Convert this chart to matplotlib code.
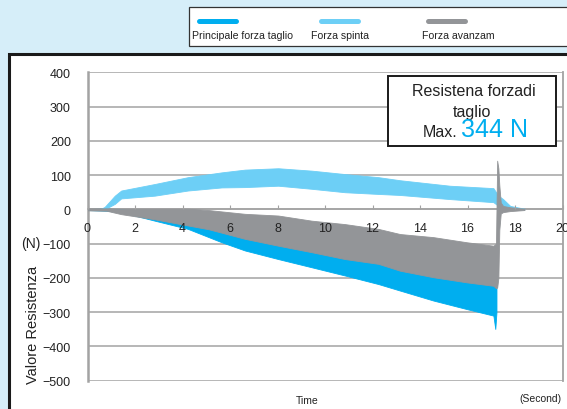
import matplotlib.pyplot as plt
import matplotlib.patches as mpatches
from matplotlib.lines import Line2D

plt.rcParams['font.family'] = ['Liberation Sans', 'DejaVu Sans']

# Forza spinta (light blue band)
t_spinta = [0.5, 0.72, 1.15, 1.42, 2.83, 4.23, 5.65, 6.63, 8.03, 9.44, 10.84, 12.25, 13.16, 15.26, 17.09, 17.3, 17.5, 17.8, 18.4]
spinta_hi = [0, 7, 40, 55, 74, 94, 108, 116, 120, 113, 103, 94, 85, 69, 62, 40, 30, 10, 2]
spinta_lo = [0, 0, 16, 32, 40, 55, 64, 65, 69, 60, 50, 45, 42, 30, 21, 10, 5, 0, 0]

# Principale forza taglio (blue band, under the grey one)
t_princ = [0.0, 0.8, 1.42, 2.83, 4.23, 5.65, 6.63, 8.03, 9.44, 10.84, 12.25, 13.16, 14.56, 15.97, 17.09, 17.17, 17.22]
princ_hi = [1, 2, 0, -10, -25, -40, -55, -70, -85, -100, -115, -125, -140, -150, -160, -160, -160]
princ_lo = [-2, -4, -8, -33, -57, -96, -120, -145, -169, -193, -218, -237, -266, -291, -310, -349, -300]

# Forza avanzam (grey band)
t_avanz = [0.0, 0.8, 1.42, 2.83, 4.23, 5.1, 5.65, 6.63, 8.03, 9.44, 10.84, 12.25, 13.16, 14.56, 15.97, 17.09,
           17.2, 17.25, 17.3, 17.34, 17.4, 17.5, 17.8, 18.4]
avanz_hi = [3, 3, 2, 2, 2, -2, -6, -13, -18, -33, -43, -57, -72, -81, -96, -106,
            -100, 142, 120, 70, 20, 10, 6, 2]
avanz_lo = [-3, -4, -14, -29, -47, -58, -68, -86, -106, -125, -145, -159, -179, -198, -213, -223,
            -230, -228, -200, -60, -12, -8, -5, -2]

x_ticks = [0, 2, 4, 6, 8, 10, 12, 14, 16, 18, 20]
y_ticks = [400, 300, 200, 100, 0, -100, -200, -300, -400, -500]

c_princ = '#00aeef'
c_spinta = '#6dcff6'
c_avanz = '#939598'
c_axis = '#a3a3a3'

W, H = 567, 410
fig = plt.figure(figsize=(W / 100, H / 100), dpi=100)
fig.patch.set_facecolor('#d6eef9')

def fx(px):
    return px / W

def fy(py):
    return 1 - py / H

# white panel with black border
fig.patches.append(mpatches.Rectangle((fx(9), -0.05), 1.1, fy(55) + 0.05, transform=fig.transFigure,
                                      facecolor='white', edgecolor='#1a1a1a', lw=2.2, zorder=-2))
# legend box
fig.patches.append(mpatches.Rectangle((fx(189), fy(47)), 1.0, (47 - 8) / H, transform=fig.transFigure,
                                      facecolor='white', edgecolor='#333333', lw=0.9, zorder=-2))
leg = [('Principale forza taglio', c_princ, 192, 199), ('Forza spinta', c_spinta, 311, 321),
       ('Forza avanzam', c_avanz, 422, 428)]
for name, col, tx, lx in leg:
    fig.lines.append(Line2D([fx(lx), fx(lx + 37)], [fy(22), fy(22)], transform=fig.transFigure,
                            color=col, lw=3.6, solid_capstyle='round'))
    fig.text(fx(tx), fy(36), name, fontsize=7.6, color='#222222', va='center', ha='left')

ax = fig.add_axes([fx(87.5), fy(381.7), (562.5 - 87.5) / W, (381.7 - 73.3) / H])
ax.set_facecolor('white')

ax.fill_between(t_spinta, spinta_lo, spinta_hi, color=c_spinta, lw=0.6, zorder=3)
ax.fill_between(t_princ, princ_lo, princ_hi, color=c_princ, lw=0.6, zorder=3)
ax.fill_between(t_avanz, avanz_lo, avanz_hi, color=c_avanz, lw=0.6, zorder=4)

ax.set_xlim(0, 20)
ax.set_ylim(-500, 400)
ax.set_xticks(x_ticks)
ax.set_yticks(y_ticks)
ax.yaxis.grid(True, color=c_axis, lw=1.1)
ax.set_axisbelow(True)
ax.xaxis.set_zorder(5)

ax.spines['top'].set_visible(False)
ax.spines['bottom'].set_position(('data', 0))
ax.spines['bottom'].set_color(c_axis)
ax.spines['bottom'].set_linewidth(1.1)
ax.spines['bottom'].set_zorder(2)
ax.spines['left'].set_color(c_axis)
ax.spines['left'].set_linewidth(1.8)
ax.spines['right'].set_color(c_axis)
ax.spines['right'].set_linewidth(1.3)
ax.tick_params(axis='x', direction='in', length=3, color=c_axis, labelsize=9, pad=9, labelcolor='#222222')
ax.tick_params(axis='y', length=0, labelsize=9, pad=12, labelcolor='#222222')

fig.text(fx(31), fy(244), '(N)', fontsize=10, ha='center', va='center', color='#222222')
fig.text(fx(33), fy(325), 'Valore Resistenza', fontsize=10.5, rotation=90, ha='center', va='center', color='#222222')
fig.text(fx(307), fy(401), 'Time', fontsize=7.5, ha='center', va='center', color='#222222')
fig.text(fx(540), fy(399), '(Second)', fontsize=7.5, ha='center', va='center', color='#222222')

# annotation box
fig.patches.append(mpatches.Rectangle((fx(388), fy(146.5)), (556 - 388) / W, (146.5 - 77) / H,
                                      transform=fig.transFigure, facecolor='white', edgecolor='#1a1a1a',
                                      lw=1.4, zorder=5))
fig.text(fx(474), fy(96), 'Resistena forzadi', fontsize=11.5, ha='center', va='baseline', color='#222222', zorder=6)
fig.text(fx(472), fy(116.5), 'taglio', fontsize=11.5, ha='center', va='baseline', color='#222222', zorder=6)
fig.text(fx(457.5), fy(136.7), 'Max.', fontsize=11.5, ha='right', va='baseline', color='#222222', zorder=6)
fig.text(fx(461), fy(136.7), '344 N', fontsize=18, ha='left', va='baseline', color=c_princ, zorder=6)

fig.savefig('out.png', dpi=100, facecolor=fig.get_facecolor())
